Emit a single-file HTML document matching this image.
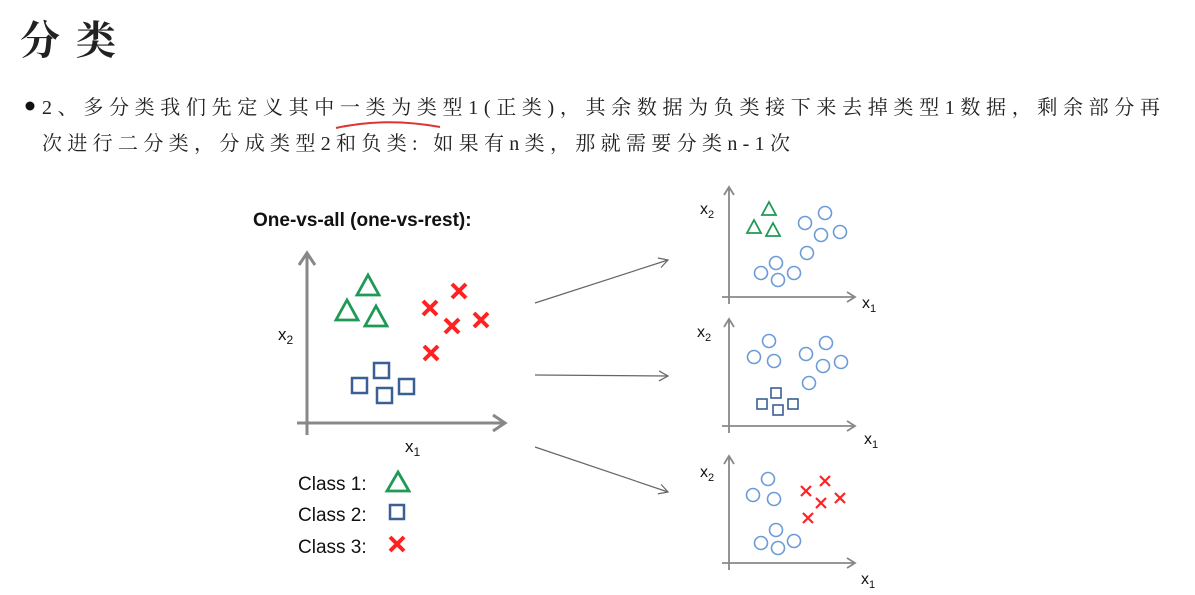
<!DOCTYPE html>
<html><head><meta charset="utf-8"><style>
html,body{margin:0;padding:0;background:#fff;}
svg{display:block;}
.cj{font-family:"Liberation Serif","Noto Serif CJK SC",serif;fill:#222;}
.ls{font-family:"Liberation Sans",sans-serif;fill:#111;}
</style></head><body>
<svg width="1195" height="595" viewBox="0 0 1195 595" xmlns="http://www.w3.org/2000/svg">
<defs>
<marker id="ah" markerWidth="12" markerHeight="12" refX="10" refY="6" orient="auto" markerUnits="userSpaceOnUse">
<path d="M1,1 L10,6 L1,11" fill="none" stroke="#666" stroke-width="1.2"/></marker>
<marker id="ga" markerWidth="20" markerHeight="20" refX="16" refY="10" orient="auto" markerUnits="userSpaceOnUse">
<path d="M4,2 L16,10 L4,18" fill="none" stroke="#888" stroke-width="3"/></marker>
<marker id="gs" markerWidth="14" markerHeight="14" refX="11" refY="7" orient="auto" markerUnits="userSpaceOnUse">
<path d="M3,2 L11,7 L3,12" fill="none" stroke="#888" stroke-width="1.8"/></marker>
</defs>
<text x="20" y="54" class="cj" font-size="40" font-weight="bold" textLength="96">分类</text>
<circle cx="30" cy="106" r="4.5" fill="#111"/>
<text x="42" y="114" class="cj" font-size="20" textLength="1118" lengthAdjust="spacing">2、多分类我们先定义其中一类为类型1(正类)，其余数据为负类接下来去掉类型1数据，剩余部分再</text>
<text x="42" y="150" class="cj" font-size="20" textLength="748" lengthAdjust="spacing">次进行二分类，分成类型2和负类: 如果有n类，那就需要分类n-1次</text>
<path d="M336,128 Q385,117 440,127" fill="none" stroke="#d33" stroke-width="2"/>

<text x="253" y="226" class="ls" font-size="19" font-weight="bold">One-vs-all (one-vs-rest):</text>
<line x1="307" y1="435" x2="307" y2="253" stroke="#888" stroke-width="3" marker-end="url(#ga)"/>
<line x1="297" y1="423" x2="505" y2="423" stroke="#888" stroke-width="3" marker-end="url(#ga)"/>
<text x="278" y="340" class="ls" font-size="17">x<tspan font-size="12" dy="4">2</tspan></text>
<text x="405" y="452" class="ls" font-size="17">x<tspan font-size="12" dy="4">1</tspan></text>
<g fill="none" stroke="#1f9a55" stroke-width="2.8">
<path d="M368,275 L379,295 L357,295Z"/><path d="M347,300 L358,320 L336,320Z"/><path d="M376,306 L387,326 L365,326Z"/>
</g>
<g fill="none" stroke="#3a5f95" stroke-width="2.5">
<rect x="374" y="363" width="15" height="15"/><rect x="352" y="378" width="15" height="15"/><rect x="377" y="388" width="15" height="15"/><rect x="399" y="379" width="15" height="15"/>
</g>
<g stroke="#f22" stroke-width="4">
<path d="M452,284 l14,14 M466,284 l-14,14"/><path d="M423,301 l14,14 M437,301 l-14,14"/><path d="M445,319 l14,14 M459,319 l-14,14"/><path d="M474,313 l14,14 M488,313 l-14,14"/><path d="M424,346 l14,14 M438,346 l-14,14"/>
</g>
<text x="298" y="490" class="ls" font-size="19">Class 1:</text>
<text x="298" y="521" class="ls" font-size="19">Class 2:</text>
<text x="298" y="553" class="ls" font-size="19">Class 3:</text>
<path d="M398,472 L409,491 L387,491Z" fill="none" stroke="#1f9a55" stroke-width="2.8"/>
<rect x="390" y="505" width="14" height="14" fill="none" stroke="#3a5f95" stroke-width="2.5"/>
<path d="M390,537 l14,14 M404,537 l-14,14" stroke="#f22" stroke-width="4"/>

<line x1="535" y1="303" x2="668" y2="260" stroke="#666" stroke-width="1.2" marker-end="url(#ah)"/>
<line x1="535" y1="375" x2="668" y2="376" stroke="#666" stroke-width="1.2" marker-end="url(#ah)"/>
<line x1="535" y1="447" x2="668" y2="492" stroke="#666" stroke-width="1.2" marker-end="url(#ah)"/>

<g stroke="#888" stroke-width="1.8">
<line x1="729" y1="304" x2="729" y2="187" marker-end="url(#gs)"/>
<line x1="722" y1="297" x2="855" y2="297" marker-end="url(#gs)"/>
<line x1="729" y1="433" x2="729" y2="319" marker-end="url(#gs)"/>
<line x1="722" y1="426" x2="855" y2="426" marker-end="url(#gs)"/>
<line x1="729" y1="570" x2="729" y2="456" marker-end="url(#gs)"/>
<line x1="722" y1="563" x2="855" y2="563" marker-end="url(#gs)"/>
</g>
<g class="ls" font-size="16">
<text x="700" y="214">x<tspan font-size="11" dy="4">2</tspan></text>
<text x="862" y="308">x<tspan font-size="11" dy="4">1</tspan></text>
<text x="697" y="337">x<tspan font-size="11" dy="4">2</tspan></text>
<text x="864" y="444">x<tspan font-size="11" dy="4">1</tspan></text>
<text x="700" y="477">x<tspan font-size="11" dy="4">2</tspan></text>
<text x="861" y="584">x<tspan font-size="11" dy="4">1</tspan></text>
</g>
<g fill="none" stroke="#6b9bd8" stroke-width="1.6">
<circle cx="805" cy="223" r="6.5"/><circle cx="825" cy="213" r="6.5"/><circle cx="821" cy="235" r="6.5"/><circle cx="840" cy="232" r="6.5"/><circle cx="807" cy="253" r="6.5"/><circle cx="776" cy="263" r="6.5"/><circle cx="761" cy="273" r="6.5"/><circle cx="778" cy="280" r="6.5"/><circle cx="794" cy="273" r="6.5"/>
<circle cx="769" cy="341" r="6.5"/><circle cx="754" cy="357" r="6.5"/><circle cx="774" cy="361" r="6.5"/><circle cx="806" cy="354" r="6.5"/><circle cx="826" cy="343" r="6.5"/><circle cx="823" cy="366" r="6.5"/><circle cx="841" cy="362" r="6.5"/><circle cx="809" cy="383" r="6.5"/>
<circle cx="768" cy="479" r="6.5"/><circle cx="753" cy="495" r="6.5"/><circle cx="774" cy="499" r="6.5"/><circle cx="776" cy="530" r="6.5"/><circle cx="761" cy="543" r="6.5"/><circle cx="778" cy="548" r="6.5"/><circle cx="794" cy="541" r="6.5"/>
</g>
<g fill="none" stroke="#1f9a55" stroke-width="1.8">
<path d="M769,202 L776,215 L762,215Z"/><path d="M754,220 L761,233 L747,233Z"/><path d="M773,223 L780,236 L766,236Z"/>
</g>
<g fill="none" stroke="#3a5f95" stroke-width="1.6">
<rect x="771" y="388" width="10" height="10"/><rect x="757" y="399" width="10" height="10"/><rect x="773" y="405" width="10" height="10"/><rect x="788" y="399" width="10" height="10"/>
</g>
<g stroke="#f22" stroke-width="2.2">
<path d="M820,476 l10,10 M830,476 l-10,10"/><path d="M801,486 l10,10 M811,486 l-10,10"/><path d="M816,498 l10,10 M826,498 l-10,10"/><path d="M835,493 l10,10 M845,493 l-10,10"/><path d="M803,513 l10,10 M813,513 l-10,10"/>
</g>
</svg>
</body></html>
